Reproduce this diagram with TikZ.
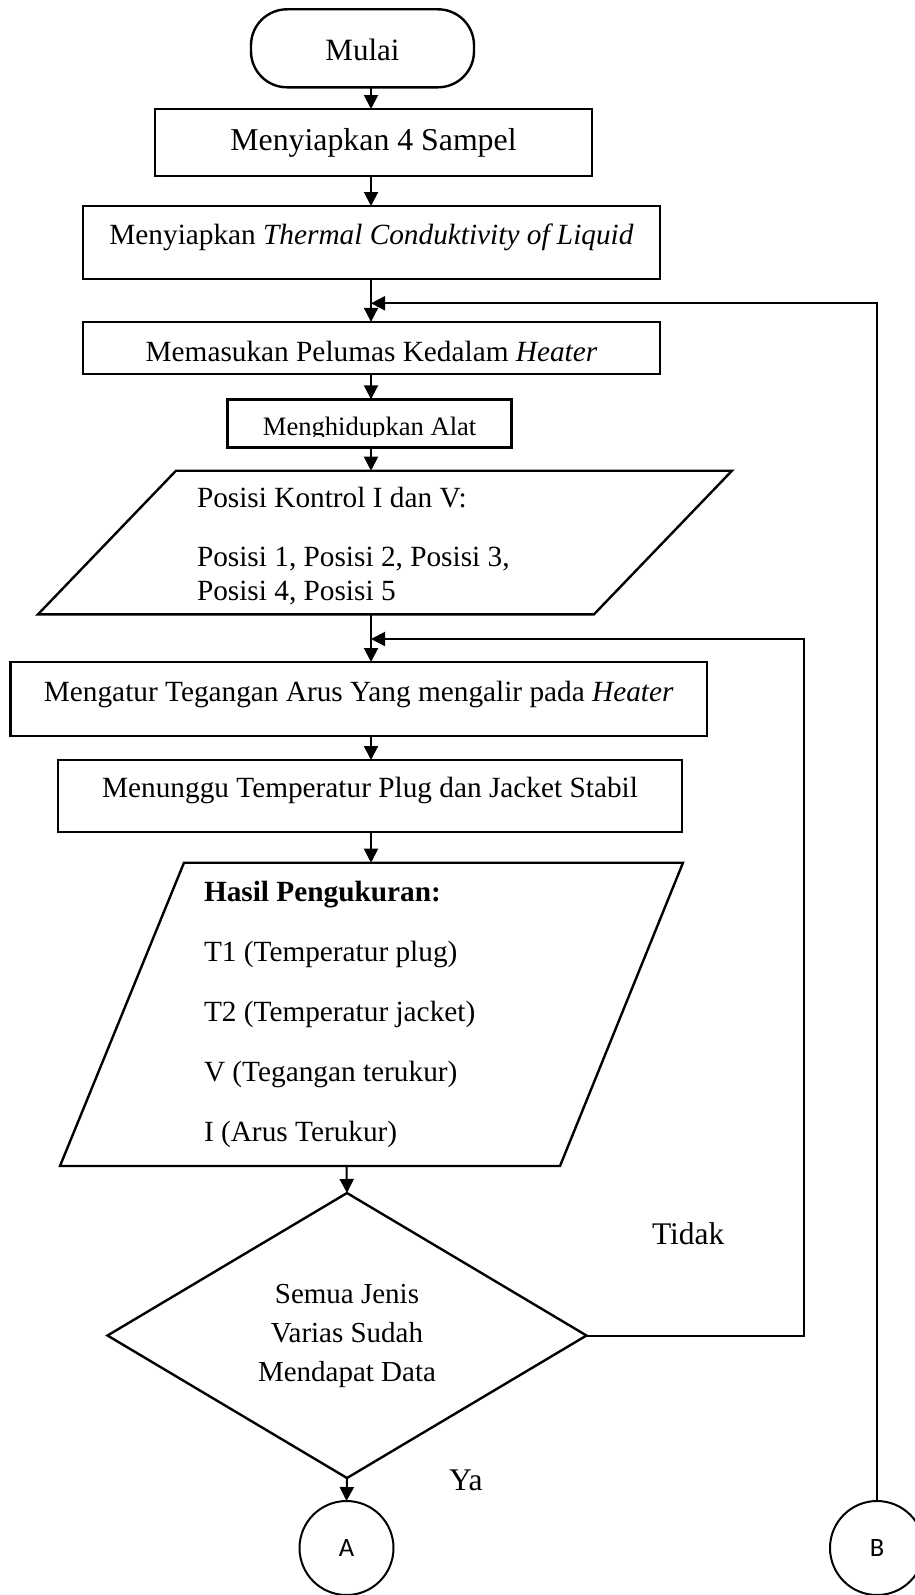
\documentclass[tikz,border=0pt]{standalone}
\usepackage{fontspec}
\setmainfont{Liberation Serif}
\newfontfamily\connfont{Carlito}
\usetikzlibrary{arrows.meta,shapes.geometric}
\begin{document}
\begin{tikzpicture}[x=1pt,y=-1pt,
  every node/.style={inner sep=0pt, outer sep=0pt},
  outline/.style={draw, line width=2.4pt},
  stepbox/.style={outline, rectangle, font=\fontsize{29.3}{34}\selectfont},
  terminal/.style={outline, rectangle, rounded corners=36pt,
    font=\fontsize{31}{36}\selectfont},
  decision/.style={outline, diamond, aspect=1.68, align=center,
    font=\fontsize{29}{39}\selectfont},
  connector/.style={draw, line width=2pt, circle, minimum size=94pt,
    font=\connfont\fontsize{26.5}{30}\selectfont},
  txt/.style={anchor=base west, font=\fontsize{29.3}{34}\selectfont},
  bigtxt/.style={anchor=base west, font=\fontsize{31.5}{36}\selectfont},
  line/.style={line width=2pt},
  arr/.style={line, -{Triangle[length=14pt,width=14pt]}}
]
\fill[white] (0,0) rectangle (915,1595);
\useasboundingbox (0,0) rectangle (915,1595);

% main column and junction points of the loops
\coordinate (col) at (371,0);
\coordinate (jb) at (371,303.3);
\coordinate (j2) at (371,639);
\coordinate (rail) at (804,639);

% start
\node[terminal, minimum width=223pt, minimum height=78pt,
      text height=25pt, text depth=0pt] (mulai) at (362.5,48.3) {Mulai};

% process steps
\node[stepbox, minimum width=437pt, minimum height=67pt,
      font=\fontsize{31.8}{36}\selectfont,
      text height=21pt, text depth=6pt] (b1) at (373.5,142.5) {Menyiapkan 4 Sampel};
\node[stepbox, minimum width=577pt, minimum height=73pt,
      text height=20pt, text depth=17pt] (b2) at (371.5,242.5)
      {Menyiapkan \textit{Thermal Conduktivity of Liquid}};
\node[stepbox, minimum width=577pt, minimum height=52.3pt,
      text height=26pt, text depth=0pt] (b3) at (371.5,348)
      {Memasukan Pelumas Kedalam \textit{Heater}};

% the label of this box is cut off just below its baseline
\node[stepbox, minimum width=284pt, minimum height=48.2pt] (b4) at (369.6,423.4) {};
\begin{scope}
  \clip (b4.north west) rectangle (b4.east |- 0,436.5);
  \node[anchor=base, font=\fontsize{26.6}{30}\selectfont] (b4txt) at (369.6,435) {Menghidupkan Alat};
\end{scope}

% input: control positions
\draw[outline] (176,470.7) -- (732,470.7) -- (594,614.3) -- (38,614.3) -- cycle;
\coordinate (p1top) at (371,470.7);
\coordinate (p1bot) at (371,614.3);
\node[txt] (p1a) at (197,507.7) {Posisi Kontrol I dan V:};
\node[txt] (p1b) at (197,566.7) {Posisi 1, Posisi 2, Posisi 3,};
\node[txt] (p1c) at (197,600.7) {Posisi 4, Posisi 5};

\node[stepbox, minimum width=696.5pt, minimum height=74pt,
      text height=20pt, text depth=16pt] (b5) at (358.75,699)
      {Mengatur Tegangan Arus Yang mengalir pada \textit{Heater}};
\node[stepbox, minimum width=624pt, minimum height=72pt,
      text height=20pt, text depth=16.6pt] (b6) at (370,796)
      {Menunggu Temperatur Plug dan Jacket Stabil};

% output: measurement results
\draw[outline] (184,862.7) -- (683,862.7) -- (560,1166) -- (60,1166) -- cycle;
\coordinate (p2top) at (371,862.7);
\coordinate (p2bot) at (346.5,1166);
\node[txt] (r0) at (204,901) {\textbf{Hasil Pengukuran:}};
\node[txt] (r1) at (204,961) {T1 (Temperatur plug)};
\node[txt] (r2) at (204,1021) {T2 (Temperatur jacket)};
\node[txt] (r3) at (204,1081) {V (Tegangan terukur)};
\node[txt] (r4) at (204,1141) {I (Arus Terukur)};

% decision
\node[decision, minimum width=479pt, minimum height=285pt] (dec) at (347,1335.5)
      {Semua Jenis\\Varias Sudah\\Mendapat Data};
\node[bigtxt] (tidak) at (652,1244) {Tidak};
\node[bigtxt] (ya) at (449,1490) {Ya};

% off-page connectors
\node[connector] (ca) at (346.5,1548) {A};
\node[connector] (cb) at (877,1548) {B};

% flow
\draw[arr] (mulai.south -| col) -- (b1.north -| col);
\draw[arr] (b1.south -| col) -- (b2.north -| col);
\draw[arr] (b2.south -| col) -- (b3.north -| col);
\draw[arr] (b3.south -| col) -- (b4.north -| col);
\draw[arr] (b4.south -| col) -- (p1top);
\draw[arr] (p1bot) -- (b5.north -| col);
\draw[arr] (b5.south -| col) -- (b6.north -| col);
\draw[arr] (b6.south -| col) -- (p2top);
\draw[arr] (p2bot) -- (dec.north);
\draw[arr] (dec.south) -- (ca.north);

% loops back into the column
\draw[arr] (dec.east) -| (rail) -- (j2);
\draw[arr] (cb.north) |- (jb);
\end{tikzpicture}
\end{document}
